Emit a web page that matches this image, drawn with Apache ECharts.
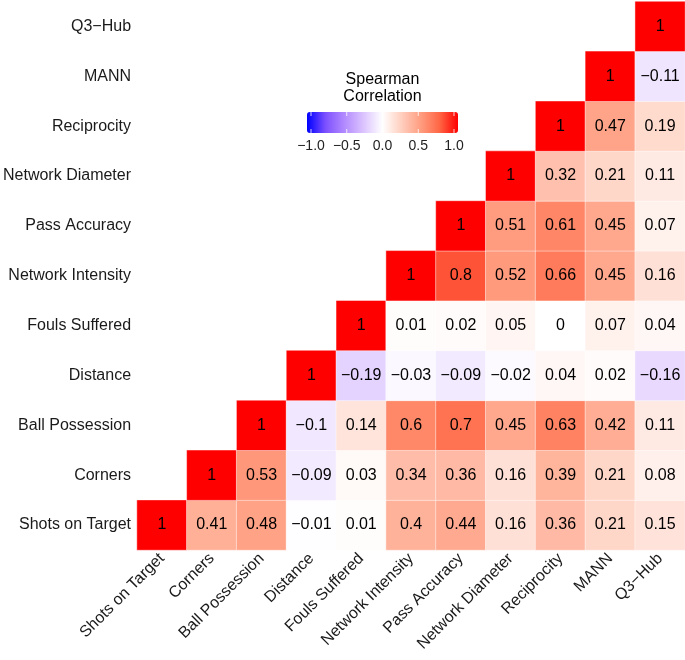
<!DOCTYPE html>
<html>
<head>
<meta charset="utf-8">
<script src="https://cdn.jsdelivr.net/npm/echarts@6/dist/echarts.min.js"></script>
<style>html,body{margin:0;padding:0;background:#fff}#c{width:685px;height:660px}</style>
</head>
<body>
<div id="c"></div>
<script>
var variables = ['Shots on Target','Corners','Ball Possession','Distance','Fouls Suffered','Network Intensity','Pass Accuracy','Network Diameter','Reciprocity','MANN','Q3\u2212Hub'];
// upper-triangle rows: row i holds correlations of variable i with variables i..10
var row0 = [1, 0.41, 0.48, -0.01, 0.01, 0.4, 0.44, 0.16, 0.36, 0.21, 0.15];
var row1 = [1, 0.53, -0.09, 0.03, 0.34, 0.36, 0.16, 0.39, 0.21, 0.08];
var row2 = [1, -0.1, 0.14, 0.6, 0.7, 0.45, 0.63, 0.42, 0.11];
var row3 = [1, -0.19, -0.03, -0.09, -0.02, 0.04, 0.02, -0.16];
var row4 = [1, 0.01, 0.02, 0.05, 0, 0.07, 0.04];
var row5 = [1, 0.8, 0.52, 0.66, 0.45, 0.16];
var row6 = [1, 0.51, 0.61, 0.45, 0.07];
var row7 = [1, 0.32, 0.21, 0.11];
var row8 = [1, 0.47, 0.19];
var row9 = [1, -0.11];
var row10 = [1];
var legendTicks = [-1.0, -0.5, 0.0, 0.5, 1.0];
var legendTitle = 'Spearman\nCorrelation';

var rows = [row0,row1,row2,row3,row4,row5,row6,row7,row8,row9,row10];
var data = [];
rows.forEach(function(r, i){ r.forEach(function(v, k){ data.push([i + k, i, v]); }); });

function fmt(v){ var s = String(v); return v < 0 ? '\u2212' + s.slice(1) : s; }

var colors = ['#0000FF','#7E52FF','#B38BFF','#DCC4FF','#FFFFFF','#FFCFBF','#FF9E81','#FF6846','#FF0000'];
var FONT = '"Liberation Sans", Arial, sans-serif';

var barLeft = 307, barTop = 112, barW = 151, barH = 21;
var graphics = [];
graphics.push({ type: 'text', x: barLeft + barW/2, y: 71, style: { text: legendTitle, fill: '#000', font: '16px ' + FONT, align: 'center', lineHeight: 17 } });
legendTicks.forEach(function(t){
  var px = barLeft + 4 + (t + 1) / 2 * (barW - 8);
  graphics.push({ type: 'text', x: px, y: 139, style: { text: (t < 0 ? '\u2212' : '') + Math.abs(t).toFixed(1), fill: '#222', font: '14px ' + FONT, align: 'center' } });
  graphics.push({ type: 'line', z: 100, shape: { x1: px, y1: barTop, x2: px, y2: barTop + 4 }, style: { stroke: 'rgba(255,255,255,0.8)', lineWidth: 1 } });
  graphics.push({ type: 'line', z: 100, shape: { x1: px, y1: barTop + barH - 4, x2: px, y2: barTop + barH }, style: { stroke: 'rgba(255,255,255,0.8)', lineWidth: 1 } });
});

var chart = echarts.init(document.getElementById('c'));
chart.setOption({
  backgroundColor: '#fff',
  animation: false,
  grid: { left: 135, right: 0, top: 1.5, bottom: 110 },
  xAxis: {
    type: 'category', data: variables,
    axisLine: { show: false }, axisTick: { show: false }, splitLine: { show: false },
    axisLabel: { rotate: 45, margin: 6, fontSize: 16, color: '#1a1a1a', fontFamily: FONT, interval: 0 }
  },
  yAxis: {
    type: 'category', data: variables,
    axisLine: { show: false }, axisTick: { show: false }, splitLine: { show: false },
    axisLabel: { margin: 6, fontSize: 16, color: '#1a1a1a', fontFamily: FONT, interval: 0 }
  },
  visualMap: {
    type: 'continuous', min: -1, max: 1, orient: 'horizontal', calculable: false,
    left: barLeft, top: barTop, itemWidth: barH, itemHeight: barW, padding: 0, text: null,
    showLabel: false, realtime: false, hoverLink: false,
    inRange: { color: colors }
  },
  graphic: graphics,
  series: [{
    type: 'heatmap', data: data,
    itemStyle: { borderColor: 'rgba(255,255,255,0.45)', borderWidth: 1 },
    label: { show: true, fontSize: 16, color: '#000', fontFamily: FONT, formatter: function(p){ return fmt(p.value[2]); } }
  }]
});
</script>
</body>
</html>
